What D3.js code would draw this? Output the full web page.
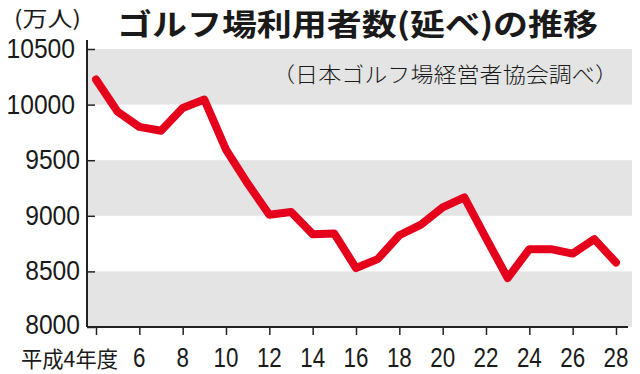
<!DOCTYPE html>
<html>
<head>
    <meta charset="UTF-8">
    <title>ゴルフ場利用者数の推移</title>
    <style>
        body { margin: 0; background: #fff; }
        .tick-label {
            font-family: "Liberation Sans", Arial, sans-serif;
            font-size: 28px;
            fill: #1a1a1a;
        }
        .jp {
            font-family: "Noto Sans CJK JP", sans-serif;
            fill: #1a1a1a;
        }
    </style>
    <script src="https://d3js.org/d3.v7.min.js"></script>
</head>
<body>
<div id="chart"></div>
<script>
    // 平成4年度〜28年度
    const years = [4, 5, 6, 7, 8, 9, 10, 11, 12, 13, 14, 15, 16, 17, 18, 19, 20, 21, 22, 23, 24, 25, 26, 27, 28];
    const visitors = [10225, 9935, 9800, 9765, 9970, 10045, 9595, 9290, 9010, 9035, 8835, 8840, 8530, 8610, 8825, 8920, 9075, 9165, 8800, 8440, 8700, 8700, 8660, 8790, 8580];
    const yTicks = [8000, 8500, 9000, 9500, 10000, 10500];
    const xTicks = [4, 6, 8, 10, 12, 14, 16, 18, 20, 22, 24, 26, 28];

    const width = 640, height = 374;

    const svg = d3.select("#chart")
        .append("svg")
            .attr("width", width)
            .attr("height", height);

    const x = d3.scaleLinear()
        .domain([4, 28])
        .range([96, 616]);

    const y = d3.scaleLinear()
        .domain([8000, 10500])
        .range([327, 49]);

    const plotLeft = 87, plotRight = 632;

    // gray bands
    const bands = [[10000, 10500], [9000, 9500], [8000, 8500]];
    svg.selectAll(".band")
        .data(bands)
        .enter()
        .append("rect")
            .attr("class", "band")
            .attr("x", plotLeft)
            .attr("width", plotRight - plotLeft)
            .attr("y", d => y(d[1]))
            .attr("height", d => y(d[0]) - y(d[1]))
            .attr("fill", "#e4e4e4");

    // Y axis
    const yAxis = svg.append("g")
        .attr("transform", `translate(${plotLeft},0)`)
        .call(d3.axisRight(y).tickValues(yTicks).tickSize(8).tickFormat(""));
    yAxis.select(".domain").remove();
    yAxis.selectAll("line").attr("stroke", "#222").attr("stroke-width", 1.5);
    svg.append("line")
        .attr("x1", plotLeft).attr("x2", plotLeft)
        .attr("y1", 40).attr("y2", y(8000))
        .attr("stroke", "#222").attr("stroke-width", 2);

    svg.selectAll(".ylab")
        .data(yTicks)
        .enter()
        .append("text")
            .attr("class", "tick-label")
            .attr("text-anchor", "end")
            .attr("transform", d => `translate(${d >= 10000 ? 75 : 80},${y(d) + (d === 8000 ? 7 : 9)}) scale(0.88,1)`)
            .text(d => d);

    // X axis
    const xAxis = svg.append("g")
        .attr("transform", `translate(0,${y(8000)})`)
        .call(d3.axisBottom(x).tickValues(xTicks).tickSize(8).tickFormat(""));
    xAxis.select(".domain").remove();
    xAxis.selectAll("line").attr("stroke", "#222").attr("stroke-width", 1.5);
    svg.append("line")
        .attr("x1", plotLeft).attr("x2", 628)
        .attr("y1", y(8000)).attr("y2", y(8000))
        .attr("stroke", "#222").attr("stroke-width", 2);

    svg.selectAll(".xlab")
        .data(xTicks.slice(1))
        .enter()
        .append("text")
            .attr("class", "tick-label")
            .attr("text-anchor", "middle")
            .attr("transform", d => `translate(${x(d)},367) scale(0.8,1)`)
            .text(d => d);

    svg.append("text")
        .attr("class", "jp")
        .attr("x", 21)
        .attr("y", 367)
        .attr("font-size", 22)
        .attr("textLength", 97)
        .attr("lengthAdjust", "spacingAndGlyphs")
        .text("平成4年度");

    // line
    const line = d3.line()
        .x((d, i) => x(years[i]))
        .y(d => y(d));

    svg.append("path")
        .datum(visitors)
        .attr("fill", "none")
        .attr("stroke", "#e5001c")
        .attr("stroke-width", 8)
        .attr("stroke-linejoin", "round")
        .attr("stroke-linecap", "round")
        .attr("d", line);

    // titles
    svg.append("text")
        .attr("class", "jp")
        .attr("x", 14)
        .attr("y", 26)
        .attr("font-size", 21)
        .attr("fill", "#333")
        .attr("textLength", 67)
        .attr("lengthAdjust", "spacingAndGlyphs")
        .text("(万人)");

    svg.append("text")
        .attr("class", "jp")
        .attr("x", 117)
        .attr("y", 35)
        .attr("font-size", 30)
        .attr("font-weight", "bold")
        .attr("textLength", 481)
        .attr("lengthAdjust", "spacingAndGlyphs")
        .text("ゴルフ場利用者数(延べ)の推移");

    svg.append("text")
        .attr("class", "jp")
        .attr("x", 272)
        .attr("y", 82)
        .attr("font-size", 21)
        .attr("font-weight", 300)
        .attr("textLength", 346)
        .attr("lengthAdjust", "spacingAndGlyphs")
        .text("（日本ゴルフ場経営者協会調べ）");
</script>
</body>
</html>
